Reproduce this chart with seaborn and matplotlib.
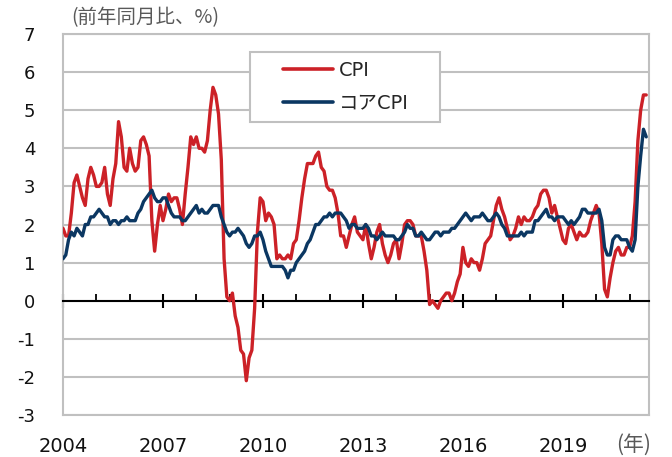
import numpy as np
import pandas as pd
import matplotlib
matplotlib.use("Agg")
import matplotlib.pyplot as plt
from matplotlib.patches import Rectangle
import seaborn as sns

# monthly, Jan 2004 - Jul 2021, year-on-year %
years = list(range(2004, 2022))
cpi = [
    1.9, 1.7, 1.7, 2.3, 3.1, 3.3, 3.0, 2.7, 2.5, 3.2, 3.5, 3.3,   # 2004
    3.0, 3.0, 3.1, 3.5, 2.8, 2.5, 3.2, 3.6, 4.7, 4.3, 3.5, 3.4,   # 2005
    4.0, 3.6, 3.4, 3.5, 4.2, 4.3, 4.1, 3.8, 2.1, 1.3, 2.0, 2.5,   # 2006
    2.1, 2.4, 2.8, 2.6, 2.7, 2.7, 2.4, 2.0, 2.8, 3.5, 4.3, 4.1,   # 2007
    4.3, 4.0, 4.0, 3.9, 4.2, 5.0, 5.6, 5.4, 4.9, 3.7, 1.1, 0.1,   # 2008
    0.0, 0.2, -0.4, -0.7, -1.3, -1.4, -2.1, -1.5, -1.3, -0.2, 1.8, 2.7,  # 2009
    2.6, 2.1, 2.3, 2.2, 2.0, 1.1, 1.2, 1.1, 1.1, 1.2, 1.1, 1.5,   # 2010
    1.6, 2.1, 2.7, 3.2, 3.6, 3.6, 3.6, 3.8, 3.9, 3.5, 3.4, 3.0,   # 2011
    2.9, 2.9, 2.7, 2.3, 1.7, 1.7, 1.4, 1.7, 2.0, 2.2, 1.8, 1.7,   # 2012
    1.6, 2.0, 1.5, 1.1, 1.4, 1.8, 2.0, 1.5, 1.2, 1.0, 1.2, 1.5,   # 2013
    1.6, 1.1, 1.5, 2.0, 2.1, 2.1, 2.0, 1.7, 1.7, 1.7, 1.3, 0.8,   # 2014
    -0.1, 0.0, -0.1, -0.2, 0.0, 0.1, 0.2, 0.2, 0.0, 0.2, 0.5, 0.7,  # 2015
    1.4, 1.0, 0.9, 1.1, 1.0, 1.0, 0.8, 1.1, 1.5, 1.6, 1.7, 2.1,   # 2016
    2.5, 2.7, 2.4, 2.2, 1.9, 1.6, 1.7, 1.9, 2.2, 2.0, 2.2, 2.1,   # 2017
    2.1, 2.2, 2.4, 2.5, 2.8, 2.9, 2.9, 2.7, 2.3, 2.5, 2.2, 1.9,   # 2018
    1.6, 1.5, 1.9, 2.0, 1.8, 1.6, 1.8, 1.7, 1.7, 1.8, 2.1, 2.3,   # 2019
    2.5, 2.3, 1.5, 0.3, 0.1, 0.6, 1.0, 1.3, 1.4, 1.2, 1.2, 1.4,   # 2020
    1.4, 1.7, 2.6, 4.2, 5.0, 5.4, 5.4,                            # 2021
]
core = [
    1.1, 1.2, 1.6, 1.8, 1.7, 1.9, 1.8, 1.7, 2.0, 2.0, 2.2, 2.2,   # 2004
    2.3, 2.4, 2.3, 2.2, 2.2, 2.0, 2.1, 2.1, 2.0, 2.1, 2.1, 2.2,   # 2005
    2.1, 2.1, 2.1, 2.3, 2.4, 2.6, 2.7, 2.8, 2.9, 2.7, 2.6, 2.6,   # 2006
    2.7, 2.7, 2.5, 2.3, 2.2, 2.2, 2.2, 2.1, 2.1, 2.2, 2.3, 2.4,   # 2007
    2.5, 2.3, 2.4, 2.3, 2.3, 2.4, 2.5, 2.5, 2.5, 2.2, 2.0, 1.8,   # 2008
    1.7, 1.8, 1.8, 1.9, 1.8, 1.7, 1.5, 1.4, 1.5, 1.7, 1.7, 1.8,   # 2009
    1.6, 1.3, 1.1, 0.9, 0.9, 0.9, 0.9, 0.9, 0.8, 0.6, 0.8, 0.8,   # 2010
    1.0, 1.1, 1.2, 1.3, 1.5, 1.6, 1.8, 2.0, 2.0, 2.1, 2.2, 2.2,   # 2011
    2.3, 2.2, 2.3, 2.3, 2.3, 2.2, 2.1, 1.9, 2.0, 2.0, 1.9, 1.9,   # 2012
    1.9, 2.0, 1.9, 1.7, 1.7, 1.6, 1.7, 1.8, 1.7, 1.7, 1.7, 1.7,   # 2013
    1.6, 1.6, 1.7, 1.8, 2.0, 1.9, 1.9, 1.7, 1.7, 1.8, 1.7, 1.6,   # 2014
    1.6, 1.7, 1.8, 1.8, 1.7, 1.8, 1.8, 1.8, 1.9, 1.9, 2.0, 2.1,   # 2015
    2.2, 2.3, 2.2, 2.1, 2.2, 2.2, 2.2, 2.3, 2.2, 2.1, 2.1, 2.2,   # 2016
    2.3, 2.2, 2.0, 1.9, 1.7, 1.7, 1.7, 1.7, 1.7, 1.8, 1.7, 1.8,   # 2017
    1.8, 1.8, 2.1, 2.1, 2.2, 2.3, 2.4, 2.2, 2.2, 2.1, 2.2, 2.2,   # 2018
    2.2, 2.1, 2.0, 2.1, 2.0, 2.1, 2.2, 2.4, 2.4, 2.3, 2.3, 2.3,   # 2019
    2.3, 2.4, 2.1, 1.4, 1.2, 1.2, 1.6, 1.7, 1.7, 1.6, 1.6, 1.6,   # 2020
    1.4, 1.3, 1.6, 3.0, 3.8, 4.5, 4.3,                            # 2021
]
series_names = ["CPI", "コアCPI"]
series_colors = ["#cc2127", "#0b3762"]
y_ticks = list(range(-3, 8))

months = np.arange(len(cpi))
df = pd.DataFrame({
    "month": np.concatenate([months, months]),
    "value": cpi + core,
    "series": [series_names[0]] * len(cpi) + [series_names[1]] * len(core),
})

sns.set_theme(style="white")
plt.rcParams["font.family"] = ["DejaVu Sans", "Noto Sans CJK JP"]
plt.rcParams["axes.unicode_minus"] = False

fig = plt.figure(figsize=(6.72, 4.57), dpi=100)
ax = fig.add_axes([63 / 672, 42 / 457, 586 / 672, 381 / 457])

sns.lineplot(data=df, x="month", y="value", hue="series",
             palette=dict(zip(series_names, series_colors)),
             linewidth=2.4, ax=ax, zorder=3)

grid_gray = "#c0c0c0"
ax.set_xlim(0, len(cpi))
ax.set_ylim(-3, 7)
ax.set_yticks(y_ticks)
ax.set_yticklabels([str(v) for v in y_ticks])
ax.yaxis.grid(True, color=grid_gray, linewidth=1.5)
ax.xaxis.grid(False)
ax.set_axisbelow(True)
ax.tick_params(axis="y", length=0, pad=20, labelsize=13, labelcolor="#111111")
ax.set_xlabel("")
ax.set_ylabel("")

for side in ["left", "right", "top"]:
    ax.spines[side].set_color(grid_gray)
    ax.spines[side].set_linewidth(1.5)

# zero line with yearly ticks
ax.spines["bottom"].set_position(("data", 0))
ax.spines["bottom"].set_color("black")
ax.spines["bottom"].set_linewidth(1.5)
ax.set_xticks(range(0, len(cpi), 36))
ax.set_xticks(range(0, len(cpi), 12), minor=True)
ax.tick_params(axis="x", which="major", bottom=True, direction="inout",
               length=10, width=1.5, color="black", labelbottom=False)
ax.tick_params(axis="x", which="minor", bottom=True, direction="in",
               length=5, width=1.3, color="black")

# year labels on the bottom frame
sec = ax.secondary_xaxis("bottom")
sec.set_xticks(range(0, len(cpi), 36))
sec.set_xticklabels([str(y) for y in years[::3]])
sec.tick_params(length=0, pad=16, labelsize=14, labelcolor="#111111")
sec.spines["bottom"].set_color(grid_gray)
sec.spines["bottom"].set_linewidth(1.5)

# legend
handles, labels = ax.get_legend_handles_labels()
ax.add_patch(Rectangle((0.319, 0.769), 0.324, 0.184, transform=ax.transAxes,
                       facecolor="white", edgecolor=grid_gray, linewidth=1.5, zorder=4))
leg = ax.legend(handles, labels, frameon=False, loc="center left",
                bbox_to_anchor=(0.375, 0.861), borderpad=0, borderaxespad=0,
                handlelength=2.6, handletextpad=0.3, labelspacing=0.7, fontsize=14)
leg.set_zorder(5)
for line in leg.get_lines():
    line.set_linewidth(2.6)

fig.text(71 / 672, 1 - 18 / 457, "(前年同月比、%)", fontsize=14, color="#595959",
         va="center", ha="left", family=["Noto Sans CJK JP", "DejaVu Sans"])
fig.text(616 / 672, 1 - 445 / 457, "(年)", fontsize=15, color="#595959",
         va="center", ha="left", family=["Noto Sans CJK JP", "DejaVu Sans"])

fig.savefig("out.png", dpi=100)
